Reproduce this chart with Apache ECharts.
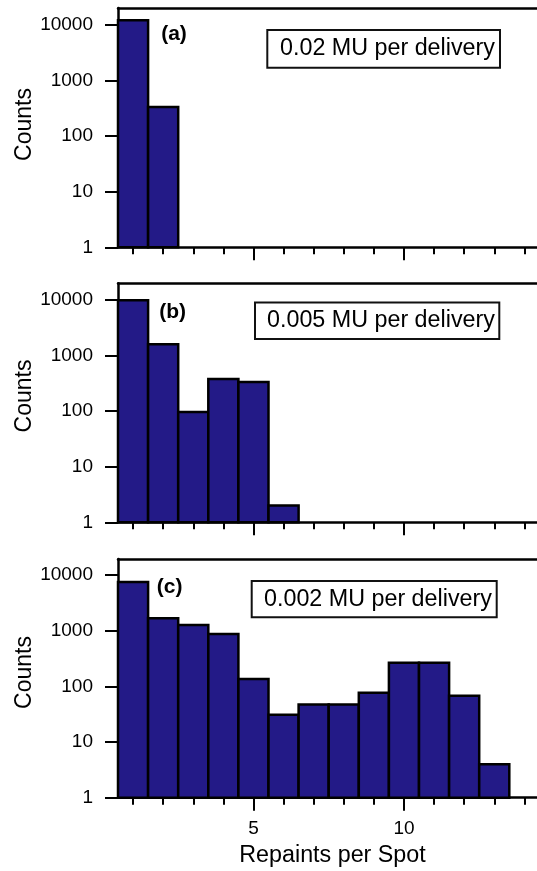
<!DOCTYPE html>
<html><head><meta charset="utf-8">
<script src="https://cdn.jsdelivr.net/npm/echarts@6/dist/echarts.min.js"></script>
<style>html,body{margin:0;padding:0;background:#fff}#c{width:537px;height:871px}</style>
</head><body><div id="c"></div>
<script>
// ---- data ----
const repaints = [1, 2, 3, 4, 5, 6, 7, 8, 9, 10, 11, 12, 13];
const countsA = [12200, 335];
const countsB = [9900, 1600, 96, 380, 335, 2];
const countsC = [7500, 1680, 1270, 870, 136, 31, 47, 47, 77, 265, 265, 68, 4];
const yTickValues = [1, 10, 100, 1000, 10000];
const xMinorTicks = [1, 2, 3, 4, 5, 6, 7, 8, 9, 10, 11, 12, 13, 14];
const xMajorTicks = [5, 10];
const xTickLabels = [5, 10];
const panelLabels = ['(a)', '(b)', '(c)'];
const doseLabels = ['0.02 MU per delivery', '0.005 MU per delivery', '0.002 MU per delivery'];
const yAxisTitle = 'Counts';
const xAxisTitle = 'Repaints per Spot';

// ---- layout / style ----
const FONT = "'Liberation Sans', Arial, Helvetica, sans-serif";
const BAR = '#231a87';
const X_MIN = 0.5, X_MAX = 14.42;
const panels = [
  { counts: countsA, top: 8, height: 239.3, ymax: 20200,
    box: [267.3, 30, 232.7, 37.7], textX: 280, label: [174, 34.5], countsY: 124.5 },
  { counts: countsB, top: 283.3, height: 239, ymax: 19950,
    box: [255, 302.5, 244.3, 36.5], textX: 267, label: [172.7, 312], countsY: 396 },
  { counts: countsC, top: 559, height: 238.7, ymax: 19400,
    box: [251.7, 581, 245, 36.3], textX: 264, label: [169.7, 587], countsY: 672.5 }
];

const grid = [], xAxis = [], yAxis = [], series = [], graphic = [];
panels.forEach((p, i) => {
  grid.push({ left: 118, right: 0, top: p.top, height: p.height, containLabel: false });
  const isLast = i === panels.length - 1;
  xAxis.push({
    type: 'value', gridIndex: i, min: X_MIN, max: X_MAX, position: 'bottom',
    axisLine: { show: true, lineStyle: { color: '#000', width: 2.5 } },
    axisTick: { show: true, customValues: xMinorTicks, length: 7, lineStyle: { color: '#000', width: 2 } },
    axisLabel: { show: isLast, customValues: xTickLabels, margin: 22, color: '#000', fontSize: 19, fontFamily: FONT },
    splitLine: { show: false }
  });
  xAxis.push({
    type: 'value', gridIndex: i, min: X_MIN, max: X_MAX, position: 'bottom',
    axisLine: { show: false },
    axisTick: { show: true, customValues: xMajorTicks, length: 13, lineStyle: { color: '#000', width: 2 } },
    axisLabel: { show: false }, splitLine: { show: false }
  });
  xAxis.push({
    type: 'value', gridIndex: i, min: X_MIN, max: X_MAX, position: 'top',
    axisLine: { show: true, lineStyle: { color: '#000', width: 2.5 } },
    axisTick: { show: false }, axisLabel: { show: false }, splitLine: { show: false }
  });
  yAxis.push({
    type: 'log', logBase: 10, gridIndex: i, min: 1, max: p.ymax,
    axisLine: { show: true, lineStyle: { color: '#000', width: 2.5 } },
    axisTick: { show: true, customValues: yTickValues, length: 13, lineStyle: { color: '#000', width: 2 } },
    axisLabel: { show: true, customValues: yTickValues, margin: 25, color: '#000', fontSize: 19, fontFamily: FONT,
      formatter: v => String(Math.round(v)) },
    splitLine: { show: false }, minorTick: { show: false }
  });
  series.push({
    type: 'custom', xAxisIndex: i * 3, yAxisIndex: i,
    data: p.counts.map((c, k) => [repaints[k], c]),
    renderItem: (params, api) => {
      const x = api.value(0), y = api.value(1);
      const tl = api.coord([x - 0.5, y]);
      const br = api.coord([x + 0.5, 1]);
      return {
        type: 'rect',
        shape: { x: tl[0], y: tl[1], width: br[0] - tl[0], height: br[1] - tl[1] },
        style: { fill: BAR, stroke: '#000', lineWidth: 2.5 }
      };
    },
    z: 1
  });
  graphic.push({
    type: 'rect', shape: { x: p.box[0], y: p.box[1], width: p.box[2], height: p.box[3] },
    style: { fill: '#fff', stroke: '#111', lineWidth: 2 }, z: 10
  });
  graphic.push({
    type: 'text', x: p.textX, y: p.box[1] + p.box[3] / 2,
    style: { text: doseLabels[i], fontSize: 23.3, fontFamily: FONT, fill: '#000', align: 'left', verticalAlign: 'middle' }, z: 11
  });
  graphic.push({
    type: 'text', x: p.label[0], y: p.label[1],
    style: { text: panelLabels[i], fontSize: 21, fontWeight: 'bold', fontFamily: FONT, fill: '#000', align: 'center', verticalAlign: 'middle' }, z: 11
  });
  graphic.push({
    type: 'text', x: 24.5, y: p.countsY, rotation: Math.PI / 2,
    style: { text: yAxisTitle, fontSize: 23, fontFamily: FONT, fill: '#000', align: 'center', verticalAlign: 'middle' }, z: 11
  });
});
graphic.push({
  type: 'text', x: 332.5, y: 856,
  style: { text: xAxisTitle, fontSize: 23.3, fontFamily: FONT, fill: '#000', align: 'center', verticalAlign: 'middle' }, z: 11
});

const chart = echarts.init(document.getElementById('c'), null, { renderer: 'canvas' });
chart.setOption({
  animation: false,
  backgroundColor: '#fff',
  grid, xAxis, yAxis, series, graphic
});
</script>
</body></html>
